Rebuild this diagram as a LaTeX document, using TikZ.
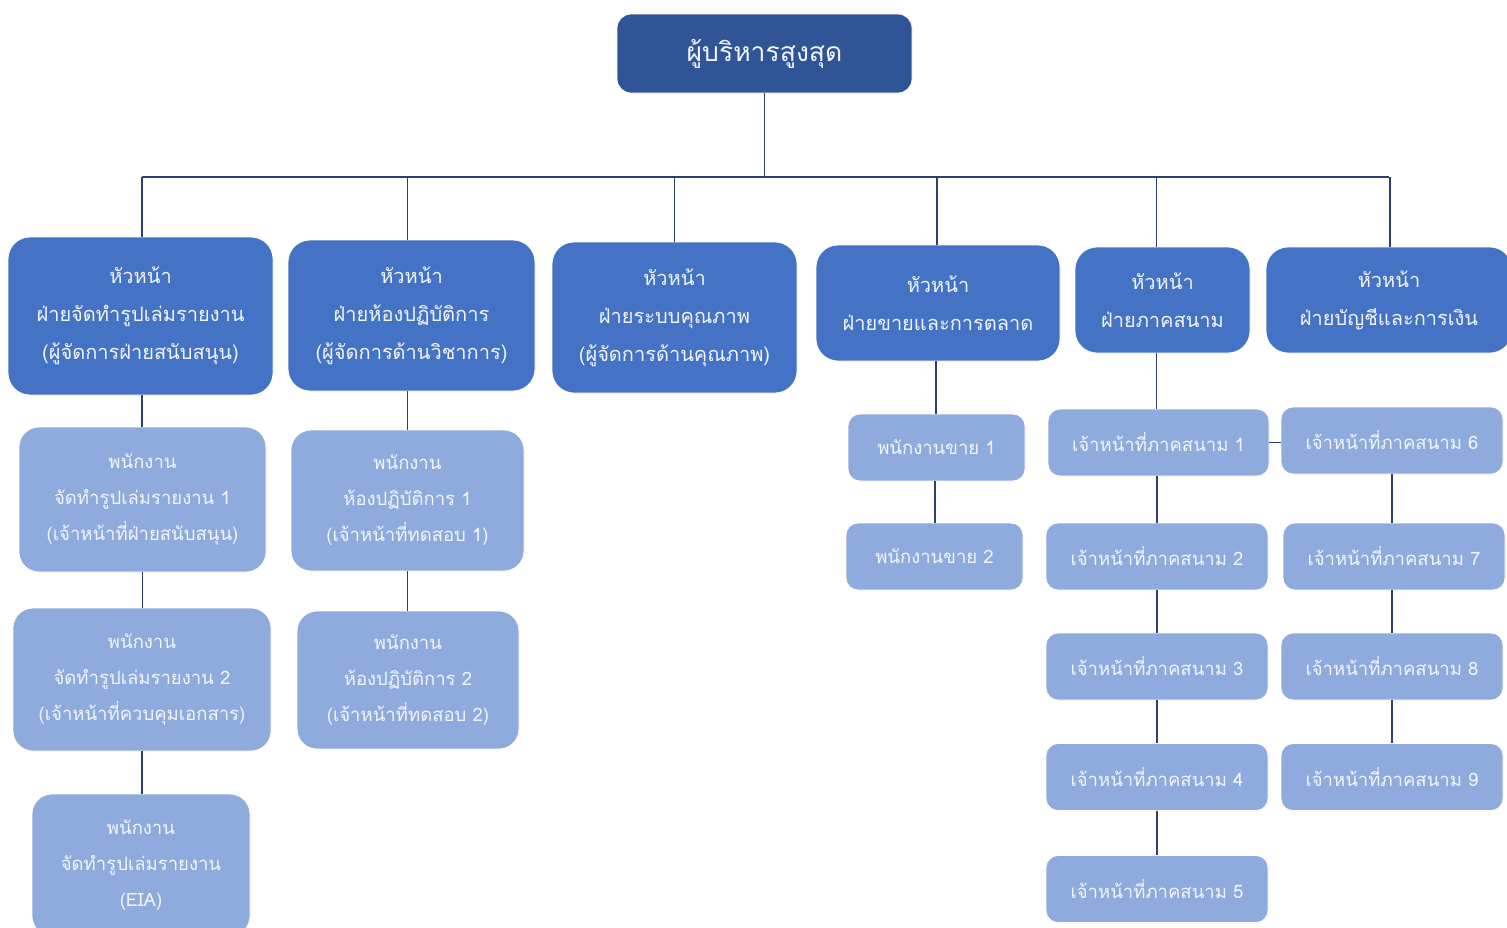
\documentclass[tikz,border=0pt]{standalone}
\usepackage{fontspec}
\newfontfamily\thai[Script=Thai]{Loma}
\definecolor{topblue}{HTML}{2F5597}
\definecolor{headblue}{HTML}{4472C4}
\definecolor{staffblue}{HTML}{8FAADC}
\definecolor{linecol}{HTML}{2E3F6E}
\definecolor{txtcol}{HTML}{F2F5FB}
\begin{document}
\begin{tikzpicture}[x=1pt,y=-1pt,
  base/.style={rectangle, inner sep=0pt, align=center, text=txtcol, draw=white, line width=0.8pt},
  topbox/.style={base, fill=topblue, rounded corners=14pt, font={\thai\fontsize{26.5}{30}\selectfont}},
  headbox/.style={base, fill=headblue, rounded corners=22pt, font={\thai\fontsize{20}{38}\selectfont}},
  staffbox/.style={base, fill=staffblue, rounded corners=20pt, font={\thai\fontsize{18.5}{36}\selectfont}},
  smallbox/.style={base, fill=staffblue, rounded corners=12pt, font={\thai\fontsize{18.5}{22}\selectfont}},
  conn/.style={draw=linecol, line width=1.1pt}
]
\useasboundingbox (0,0) rectangle (1507,927);

\node[topbox, minimum width=295pt, minimum height=79pt] (top) at (764.5,53.5) {\raisebox{-4pt}{ผู้บริหารสูงสุด}};

\node[headbox, minimum width=265pt, minimum height=158pt] (h1) at (140.5,316) {หัวหน้า\\ฝ่ายจัดทำรูปเล่มรายงาน\\(ผู้จัดการฝ่ายสนับสนุน)};
\node[headbox, minimum width=247pt, minimum height=151pt] (h2) at (411.5,315.5) {หัวหน้า\\ฝ่ายห้องปฏิบัติการ\\(ผู้จัดการด้านวิชาการ)};
\node[headbox, minimum width=245pt, minimum height=151pt] (h3) at (674.5,317.5) {หัวหน้า\\ฝ่ายระบบคุณภาพ\\(ผู้จัดการด้านคุณภาพ)};
\node[headbox, minimum width=244pt, minimum height=116pt] (h4) at (938,303) {หัวหน้า\\ฝ่ายขายและการตลาด};
\node[headbox, minimum width=175pt, minimum height=106pt] (h5) at (1162.5,300) {หัวหน้า\\ฝ่ายภาคสนาม};
\node[headbox, minimum width=246pt, minimum height=106pt] (h6) at (1389,300) {หัวหน้า\\ฝ่ายบัญชีและการเงิน};

\node[staffbox, minimum width=247pt, minimum height=145pt] (l1) at (142.5,499.5) {พนักงาน\\จัดทำรูปเล่มรายงาน 1\\(เจ้าหน้าที่ฝ่ายสนับสนุน)};
\node[staffbox, minimum width=258pt, minimum height=143pt] (l2) at (142,679.5) {พนักงาน\\จัดทำรูปเล่มรายงาน 2\\(เจ้าหน้าที่ควบคุมเอกสาร)};
\node[staffbox, minimum width=218pt, minimum height=142pt] (l3) at (141,865) {พนักงาน\\จัดทำรูปเล่มรายงาน\\(EIA)};

\node[staffbox, minimum width=233pt, minimum height=141pt] (p1) at (407.5,500.5) {พนักงาน\\ห้องปฏิบัติการ 1\\(เจ้าหน้าที่ทดสอบ 1)};
\node[staffbox, minimum width=222pt, minimum height=138pt] (p2) at (408,680) {พนักงาน\\ห้องปฏิบัติการ 2\\(เจ้าหน้าที่ทดสอบ 2)};

\node[smallbox, minimum width=177pt, minimum height=67pt] (s1) at (936.5,447.5) {พนักงานขาย 1};
\node[smallbox, minimum width=177pt, minimum height=67pt] (s2) at (934.5,556.5) {พนักงานขาย 2};

\node[smallbox, minimum width=221pt, minimum height=67pt] (f1) at (1158.5,442.5) {เจ้าหน้าที่ภาคสนาม 1};
\node[smallbox, minimum width=222pt, minimum height=67pt] (f2) at (1157,556.5) {เจ้าหน้าที่ภาคสนาม 2};
\node[smallbox, minimum width=222pt, minimum height=67pt] (f3) at (1157,666.5) {เจ้าหน้าที่ภาคสนาม 3};
\node[smallbox, minimum width=222pt, minimum height=67pt] (f4) at (1157,777) {เจ้าหน้าที่ภาคสนาม 4};
\node[smallbox, minimum width=222pt, minimum height=67pt] (f5) at (1157,889) {เจ้าหน้าที่ภาคสนาม 5};
\node[smallbox, minimum width=222pt, minimum height=67pt] (f6) at (1392,440.5) {เจ้าหน้าที่ภาคสนาม 6};
\node[smallbox, minimum width=222pt, minimum height=67pt] (f7) at (1394,556.5) {เจ้าหน้าที่ภาคสนาม 7};
\node[smallbox, minimum width=222pt, minimum height=67pt] (f8) at (1392,666.5) {เจ้าหน้าที่ภาคสนาม 8};
\node[smallbox, minimum width=222pt, minimum height=67pt] (f9) at (1392,777) {เจ้าหน้าที่ภาคสนาม 9};

\coordinate (bus) at (763,177);
\draw[conn] (top.south) -- (top.south |- bus);
\draw[conn] ([xshift=1.5pt]h1.north |- bus) -- (h6.north |- bus);
\foreach \h/\dx in {h1/1.5,h2/-4,h3/0,h4/-1,h5/-6,h6/1}{
  \draw[conn] ([xshift=\dx pt]\h.north) -- ([xshift=\dx pt]\h.north |- bus);
}
\draw[conn] ([xshift=1.5pt]h1.south) -- ([xshift=1.5pt]h1.south |- l1.north);
\draw[conn] (l1.south) -- (l1.south |- l2.north);
\draw[conn] (l2.south) -- (l2.south |- l3.north);
\draw[conn] ([xshift=-4pt]h2.south) -- ([xshift=-4pt]h2.south |- p1.north);
\draw[conn] (p1.south) -- (p1.south |- p2.north);
\draw[conn] ([xshift=-2pt]h4.south) -- ([xshift=-2pt]h4.south |- s1.north);
\draw[conn] ([xshift=-1.5pt]s1.south) -- ([xshift=-1.5pt]s1.south |- s2.north);
\draw[conn] ([xshift=-6pt]h5.south) -- ([xshift=-6pt]h5.south |- f1.north);
\draw[conn] ([xshift=-1.5pt]f1.south) -- ([xshift=-1.5pt]f1.south |- f2.north);
\draw[conn] (f2.south) -- (f2.south |- f3.north);
\draw[conn] (f3.south) -- (f3.south |- f4.north);
\draw[conn] (f4.south) -- (f4.south |- f5.north);
\draw[conn] (f1.east) -- (f1.east -| f6.west);
\draw[conn] (f6.south) -- (f6.south |- f7.north);
\draw[conn] ([xshift=-2pt]f7.south) -- ([xshift=-2pt]f7.south |- f8.north);
\draw[conn] (f8.south) -- (f8.south |- f9.north);
\end{tikzpicture}
\end{document}
